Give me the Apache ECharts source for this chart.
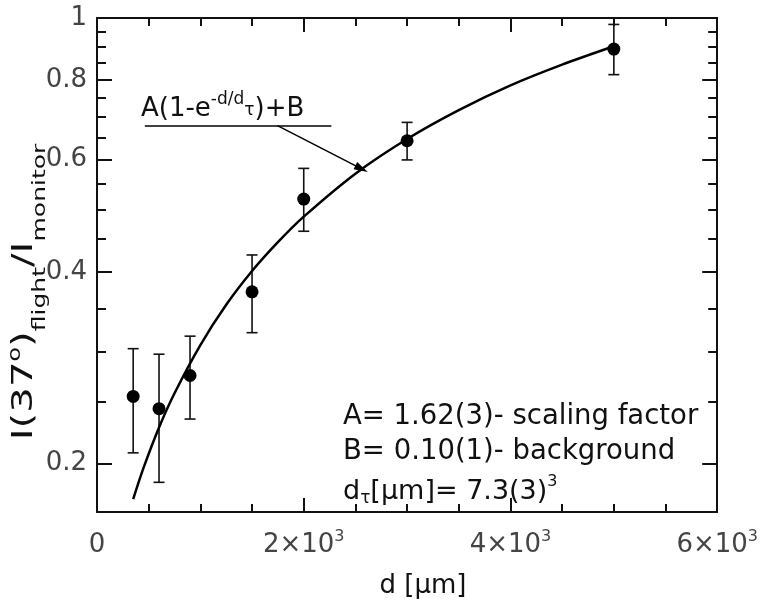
<!DOCTYPE html>
<html><head><meta charset="utf-8">
<script src="https://cdn.jsdelivr.net/npm/echarts@6/dist/echarts.min.js"></script>
<style>html,body{margin:0;padding:0;background:#fff}#c{width:761px;height:600px}</style>
</head><body><div id="c"></div>
<script>
// ---- data ----
const depth     = [350, 600, 900, 1500, 2000, 3000, 5000];
const intensity = [0.255, 0.244, 0.275, 0.372, 0.520, 0.642, 0.894];
const errLow    = [0.208, 0.187, 0.235, 0.321, 0.463, 0.599, 0.815];
const errHigh   = [0.303, 0.297, 0.317, 0.425, 0.581, 0.686, 0.977];

const fitDepth = [350, 450, 600, 750, 1000, 1250, 1500, 1750, 2000, 2500, 3000, 3500, 4000, 4500, 5000];
const fitValue = [0.176, 0.197, 0.228, 0.258, 0.307, 0.355, 0.401, 0.445, 0.488, 0.570, 0.646, 0.717, 0.784, 0.845, 0.903];

const xMajorTicks = [0, 2000, 4000, 6000];
const xMinorTicks = [0, 500, 1000, 1500, 2000, 2500, 3000, 3500, 4000, 4500, 5000, 5500, 6000];
const xMajorLabels = [['0', ''], ['2×10', '3'], ['4×10', '3'], ['6×10', '3']];
const yMajorTicks = [0.2, 0.4, 0.6, 0.8, 1];
const yMajorLabels = ['0.2', '0.4', '0.6', '0.8', '1'];
const yMinorTicks = [0.2, 0.25, 0.3, 0.35, 0.4, 0.45, 0.5, 0.55, 0.6, 0.65, 0.7, 0.75, 0.8, 0.85, 0.9, 0.95, 1];
const yMin = 0.168, yMax = 1;

// annotation arrow (data space)
const underline = [[463, 0.678], [2267, 0.678]];
const arrow = [[1746, 0.678], [2560, 0.58]];

// ---- chart ----
const FF = '"DejaVu Sans", sans-serif';
const L = v => Math.log10(v);
const chart = echarts.init(document.getElementById('c'), null, {renderer: 'canvas'});

const frame = {show: true, onZero: false, lineStyle: {color: '#111', width: 2}};
const noLine = {show: false, onZero: false};
function xAxisDef(pos, ticks, len, showLine, showLabel) {
  return {
    type: 'value', position: pos, min: 0, max: 6000, interval: 2000,
    axisLine: showLine ? frame : noLine,
    axisTick: {show: true, inside: true, length: len, customValues: ticks, lineStyle: {color: '#111', width: 2}},
    splitLine: {show: false},
    axisLabel: showLabel ? {
      show: true, margin: 17, customValues: xMajorTicks,
      formatter: v => {
        const i = xMajorTicks.indexOf(v);
        if (i < 0) return '';
        const p = xMajorLabels[i];
        return '{n|' + p[0] + '}' + (p[1] ? '{s|' + p[1] + '}' : '');
      },
      rich: {
        n: {fontSize: 26, fontFamily: FF, color: '#444', verticalAlign: 'top', padding: [3, 0, 0, 0]},
        s: {fontSize: 16, fontFamily: FF, color: '#444', verticalAlign: 'top', padding: [0, 0, 0, 0]}
      }
    } : {show: false}
  };
}
function yAxisDef(pos, ticks, len, showLine, showLabel) {
  const tv = ticks.map(L);
  return {
    type: 'value', position: pos, min: L(yMin), max: L(yMax),
    axisLine: showLine ? frame : noLine,
    axisTick: {show: true, inside: true, length: len, customValues: tv, lineStyle: {color: '#111', width: 2}},
    splitLine: {show: false},
    axisLabel: showLabel ? {
      show: true, margin: 10, customValues: yMajorTicks.map(L),
      fontSize: 26, fontFamily: FF, color: '#444',
      formatter: v => {
        let best = 0, d = 1e9;
        yMajorTicks.forEach((t, i) => { const dd = Math.abs(L(t) - v); if (dd < d) { d = dd; best = i; } });
        return yMajorLabels[best];
      }
    } : {show: false}
  };
}

const errData = depth.map((d, i) => [d, L(errLow[i]), L(errHigh[i])]);

const option = {
  animation: false,
  backgroundColor: '#fff',
  grid: {left: 97, right: 42, top: 18, bottom: 88, containLabel: false},
  xAxis: [
    xAxisDef('bottom', xMajorTicks, 14, true, true),
    xAxisDef('bottom', xMinorTicks, 8, false, false),
    xAxisDef('top', xMajorTicks, 14, true, false),
    xAxisDef('top', xMinorTicks, 8, false, false)
  ],
  yAxis: [
    yAxisDef('left', yMajorTicks, 15, true, true),
    yAxisDef('left', yMinorTicks, 9, false, false),
    yAxisDef('right', yMajorTicks, 15, true, false),
    yAxisDef('right', yMinorTicks, 9, false, false)
  ],
  series: [
    {
      type: 'custom', name: 'err', xAxisIndex: 0, yAxisIndex: 0,
      data: errData, z: 3,
      renderItem: (params, api) => {
        const x = api.value(0);
        const lo = api.coord([x, api.value(1)]);
        const hi = api.coord([x, api.value(2)]);
        const w = 5.5;
        const st = {stroke: '#111', lineWidth: 1.6};
        return {type: 'group', children: [
          {type: 'line', shape: {x1: lo[0], y1: lo[1], x2: hi[0], y2: hi[1]}, style: st},
          {type: 'line', shape: {x1: lo[0] - w, y1: lo[1], x2: lo[0] + w, y2: lo[1]}, style: st},
          {type: 'line', shape: {x1: hi[0] - w, y1: hi[1], x2: hi[0] + w, y2: hi[1]}, style: st}
        ]};
      }
    },
    {
      type: 'line', name: 'fit', xAxisIndex: 0, yAxisIndex: 0, z: 4,
      data: fitDepth.map((d, i) => [d, L(fitValue[i])]),
      smooth: 0.3, showSymbol: false, symbol: 'none',
      lineStyle: {color: '#000', width: 2.5},
      markLine: {
        silent: true, animation: false, precision: 6,
        label: {show: false},
        lineStyle: {color: '#000', width: 1.5, type: 'solid'},
        symbol: ['none', 'none'],
        data: [
          [{coord: [underline[0][0], L(underline[0][1])], symbol: 'none'},
           {coord: [underline[1][0], L(underline[1][1])], symbol: 'none'}],
          [{coord: [arrow[0][0], L(arrow[0][1])], symbol: 'none'},
           {coord: [arrow[1][0], L(arrow[1][1])], symbol: 'triangle', symbolSize: [8, 14]}]
        ]
      }
    },
    {
      type: 'scatter', name: 'data', xAxisIndex: 0, yAxisIndex: 0, z: 5,
      data: depth.map((d, i) => [d, L(intensity[i])]),
      symbol: 'circle', symbolSize: 13,
      itemStyle: {color: '#000', opacity: 1}
    }
  ],
  graphic: [
    {
      type: 'text', x: 7.5, y: 292, rotation: Math.PI / 2, scaleX: 1.39, scaleY: 1,
      style: {
        text: '{n|I(37}{p|o}{n|)}{b|flight}{n|/I}{b|monitor}',
        align: 'center', verticalAlign: 'top',
        rich: {
          n: {fontSize: 29, fontFamily: FF, fill: '#111', verticalAlign: 'top', padding: [2, 0, 0, 0]},
          p: {fontSize: 17, fontFamily: FF, fill: '#111', verticalAlign: 'top', padding: [0, 0, 0, 0]},
          b: {fontSize: 18, fontFamily: FF, fill: '#111', verticalAlign: 'top', padding: [24, 0, 0, 0]}
        }
      }
    },
    {
      type: 'text', x: 141, y: 91,
      style: {
        text: '{n|A(1-e}{p|-d/d}{t|τ}{n|)+B}',
        align: 'left', verticalAlign: 'top',
        rich: {
          n: {fontSize: 26, fontFamily: FF, fill: '#111', verticalAlign: 'top', padding: [5, 0, 0, 0]},
          p: {fontSize: 17, fontFamily: FF, fill: '#111', verticalAlign: 'top', padding: [0, 0, 0, 0]},
          t: {fontSize: 17, fontFamily: FF, fill: '#111', verticalAlign: 'top', padding: [11, 0, 0, 0]}
        }
      }
    },
    {
      type: 'text', x: 343, y: 417,
      style: {text: 'A= 1.62(3)- scaling factor', fontSize: 27.5, fontFamily: FF, fill: '#111',
              align: 'left', verticalAlign: 'middle'}
    },
    {
      type: 'text', x: 343, y: 452,
      style: {text: 'B= 0.10(1)- background', fontSize: 27.5, fontFamily: FF, fill: '#111',
              align: 'left', verticalAlign: 'middle'}
    },
    {
      type: 'text', x: 343, y: 473.5,
      style: {
        text: '{n|d}{t|τ}{n|[μm]= 7.3(3)}{p|3}',
        align: 'left', verticalAlign: 'top',
        rich: {
          n: {fontSize: 27, fontFamily: FF, fill: '#111', verticalAlign: 'top', padding: [5, 0, 0, 0]},
          t: {fontSize: 17, fontFamily: FF, fill: '#111', verticalAlign: 'top', padding: [17, 0, 0, 0]},
          p: {fontSize: 16, fontFamily: FF, fill: '#111', verticalAlign: 'top', padding: [0, 0, 0, 0]}
        }
      }
    },
    {
      type: 'text', x: 423, y: 586,
      style: {text: 'd [μm]', fontSize: 26, fontFamily: FF, fill: '#111',
              align: 'center', verticalAlign: 'middle'}
    }
  ]
};
chart.setOption(option);
</script></body></html>
